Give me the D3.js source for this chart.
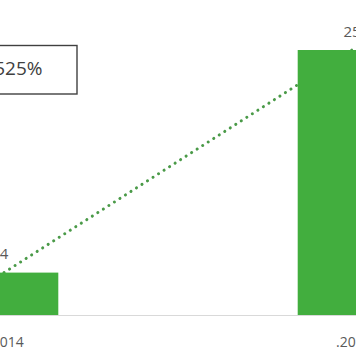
<!DOCTYPE html>
<html>
<head>
<meta charset="utf-8">
<script src="https://cdn.jsdelivr.net/npm/d3@7"></script>
<style>
  body { margin: 0; background: #fff; }
  svg { display: block; font-family: 'Open Sans', sans-serif; }
</style>
</head>
<body>
<div id="main"></div>
<script>
// chart data (the first part of each label is cut off in the source crop)
const categories = ['\u00a0.2014', '\u00a0.2019'];
const values = [4, 25];
const growthLabel = '+525%';

const w = 356;
const h = 364;
const barW = 108.6;

const green = '#42ae3e';
const dotGreen = '#4a9a48';
const textGray = '#595959';

const svg = d3.select('#main')
    .append('svg')
    .attr('width', w)
    .attr('height', h);

const x = d3.scalePoint()
    .domain(categories)
    .range([4, 352]);

const y = d3.scaleLinear()
    .domain([0, 25])
    .range([315, 50]);

// baseline
svg.append('line')
    .attr('x1', 0)
    .attr('x2', w)
    .attr('y1', y(0) + 0.5)
    .attr('y2', y(0) + 0.5)
    .attr('stroke', '#d9d9d9')
    .attr('stroke-width', 1);

// trend line between bar tops
svg.append('line')
    .attr('x1', x(categories[0]))
    .attr('y1', y(values[0]))
    .attr('x2', x(categories[1]))
    .attr('y2', y(values[1]))
    .attr('stroke', dotGreen)
    .attr('stroke-width', 3)
    .attr('stroke-linecap', 'round')
    .attr('stroke-dasharray', '0.1 6.45');

// bars
svg.selectAll('rect.bar')
    .data(values)
    .enter()
    .append('rect')
    .attr('class', 'bar')
    .attr('x', (d, i) => x(categories[i]) - barW / 2)
    .attr('y', d => y(d))
    .attr('width', barW)
    .attr('height', d => y(0) - y(d))
    .attr('fill', green);

// value labels
svg.selectAll('text.value')
    .data(values)
    .enter()
    .append('text')
    .attr('class', 'value')
    .attr('x', (d, i) => x(categories[i]))
    .attr('y', d => y(d) - 13.5)
    .attr('text-anchor', 'middle')
    .attr('fill', textGray)
    .style('font-size', '15px')
    .text(d => d);

// category labels
svg.selectAll('text.cat')
    .data(categories)
    .enter()
    .append('text')
    .attr('class', 'cat')
    .attr('x', d => x(d))
    .attr('y', 347)
    .attr('text-anchor', 'middle')
    .attr('fill', textGray)
    .style('font-size', '14px')
    .text(d => d);

// growth box
svg.append('rect')
    .attr('x', -60)
    .attr('y', 45.5)
    .attr('width', 137)
    .attr('height', 48.5)
    .attr('fill', '#fff')
    .attr('stroke', '#404040')
    .attr('stroke-width', 1.4);

svg.append('text')
    .attr('x', 42.5)
    .attr('y', 75)
    .attr('text-anchor', 'end')
    .attr('fill', '#404040')
    .style('font-size', '19px')
    .text(growthLabel);
</script>
</body>
</html>
